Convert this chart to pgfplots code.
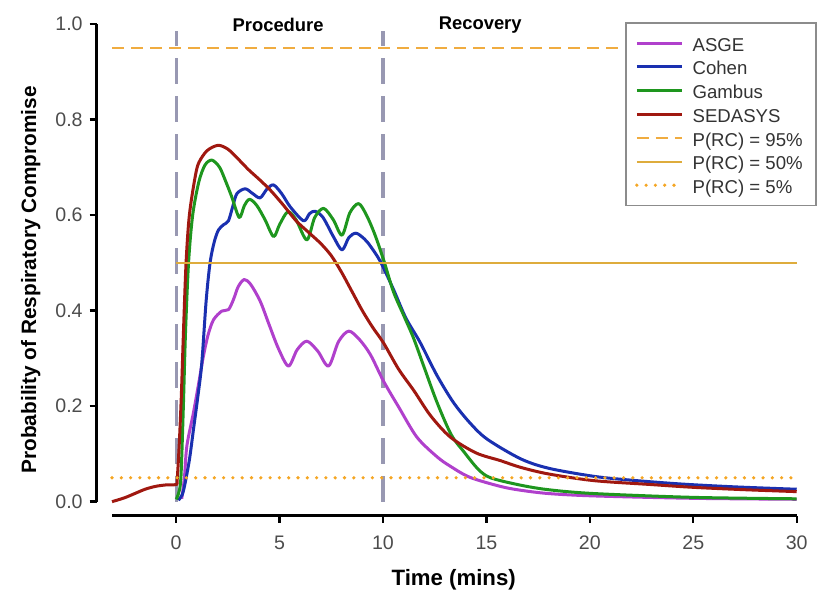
\documentclass[border=0pt]{standalone}
\usepackage{pgfplots}
\pgfplotsset{compat=1.18}
\usepackage{fontspec}
\setmainfont{Liberation Sans}

\definecolor{asge}{RGB}{176,64,204}
\definecolor{cohen}{RGB}{26,48,176}
\definecolor{gambus}{RGB}{30,150,30}
\definecolor{sedasys}{RGB}{160,24,16}
\definecolor{rc95}{RGB}{240,172,64}
\definecolor{rc50}{RGB}{222,172,60}
\definecolor{rc5}{RGB}{245,166,35}
\definecolor{phase}{RGB}{152,152,178}

\begin{document}
\begin{tikzpicture}
\path[use as bounding box] (-48.35pt,-40.5pt) rectangle (362.65pt,258pt);
\begin{axis}[
    scale only axis,
    width=350pt, height=246pt,
    xmin=-3.84, xmax=30,
    ymin=-0.03, ymax=1.0,
    clip=false,
    axis lines*=left,
    axis line style={draw=none},
    tick align=outside,
    tick pos=left,
    major tick length=3.5pt,
    tick style={black, line width=1.2pt},
    xtick={0,5,...,30},
    ytick={0,0.2,0.4,0.6,0.8,1.0},
    /pgf/number format/assume math mode=true,
    yticklabel style={/pgf/number format/fixed, /pgf/number format/fixed zerofill, /pgf/number format/precision=1, font=\fontsize{9.8}{11}\selectfont, text=black!70, xshift=0pt},
    xticklabel style={font=\fontsize{9.8}{11}\selectfont, text=black!70, yshift=-3.1pt},
    xlabel={Time (mins)},
    ylabel={Probability of Respiratory Compromise},
    xlabel style={font=\bfseries\fontsize{11.1}{13}\selectfont, at={(axis description cs:0.51,0)}, anchor=center, yshift=-32pt},
    ylabel style={font=\bfseries\fontsize{10.4}{12}\selectfont, at={(axis description cs:0,0.48)}, anchor=center, yshift=33pt},
    legend style={at={(0.755,1.004)}, anchor=north west, draw=black!45, line width=0.8pt, fill=white,
        font=\fontsize{9.3}{11}\selectfont, text=black!80, row sep=3.65pt, column sep=2.5pt,
        inner xsep=4.5pt, inner ysep=6pt,
        nodes={text height=8.2pt, text depth=0pt, inner ysep=0pt, inner xsep=2pt},
        cells={anchor=west}},
    legend image code/.code={\draw[#1] (0pt,0pt) -- (22.5pt,0pt);},
    every axis plot/.append style={line join=round},
]
% axis lines and phase markers
\draw[line width=1.5pt] (axis cs:-3.84,0) -- (axis cs:-3.84,1);
\draw[line width=1.5pt] (axis cs:-3.1,-0.03) -- (axis cs:30,-0.03);
\draw[phase, line width=1.6pt, dash pattern=on 13pt off 6pt] (axis cs:0,0) -- (axis cs:0,0.985);
\draw[phase, line width=1.6pt, dash pattern=on 13pt off 6pt] (axis cs:10,0) -- (axis cs:10,0.985);
\node[font=\bfseries\fontsize{9.2}{11}\selectfont] at (axis cs:4.93,0.998) {Procedure};
\node[font=\bfseries\fontsize{9.2}{11}\selectfont] at (axis cs:14.7,0.998) {Recovery};

% ASGE
\addplot[asge, line width=1.5pt, smooth, tension=0.5] coordinates {
(0.27,0.006) (0.4,0.05) (0.52,0.117) (0.84,0.187) (1.1,0.25) (1.32,0.305) (1.55,0.35)
(1.81,0.381) (2.21,0.399) (2.53,0.402) (2.77,0.423) (3.0,0.45) (3.29,0.465) (3.6,0.455)
(4.06,0.42) (4.5,0.37) (4.95,0.32) (5.43,0.284) (5.85,0.318) (6.32,0.336) (6.85,0.315)
(7.37,0.284) (7.85,0.335) (8.34,0.357) (8.85,0.34) (9.39,0.308) (10.03,0.252) (10.76,0.198)
(11.64,0.135) (12.61,0.094) (13.26,0.074) (14.2,0.051) (15.67,0.032) (16.64,0.024)
(18,0.017) (20.2,0.012) (25,0.007) (30,0.005)
};
% Cohen
\addplot[cohen, line width=1.5pt, smooth, tension=0.5] coordinates {
(0.11,0.003) (0.3,0.015) (0.44,0.04) (0.65,0.09) (0.84,0.152) (1.05,0.22) (1.24,0.29)
(1.45,0.42) (1.64,0.5) (1.85,0.545) (2.05,0.569) (2.3,0.58) (2.53,0.588) (2.75,0.62)
(2.94,0.645) (3.34,0.655) (3.7,0.645) (4.06,0.636) (4.4,0.655) (4.71,0.663) (5.1,0.645)
(5.52,0.617) (6.16,0.588) (6.45,0.603) (6.72,0.608) (7.1,0.595) (7.6,0.555) (8.02,0.527)
(8.35,0.553) (8.7,0.562) (9.1,0.55) (9.39,0.535) (9.87,0.503) (10.51,0.444) (11.1,0.385)
(11.8,0.333) (12.6,0.265) (13.4,0.208) (14.2,0.165) (15.03,0.131) (16.64,0.09) (18,0.07)
(20.2,0.053) (22,0.045) (24.4,0.037) (27,0.031) (30,0.026)
};
% Gambus
\addplot[gambus, line width=1.5pt, smooth, tension=0.5] coordinates {
(0,0.005) (0.1,0.015) (0.23,0.05) (0.35,0.2) (0.45,0.35) (0.6,0.5) (0.8,0.6) (1.1,0.67)
(1.4,0.705) (1.73,0.715) (2.1,0.7) (2.4,0.67) (2.69,0.638) (3.05,0.595) (3.3,0.62)
(3.55,0.633) (3.9,0.62) (4.3,0.59) (4.71,0.555) (5.0,0.58) (5.4,0.607) (5.8,0.59)
(6.32,0.548) (6.7,0.595) (7.13,0.614) (7.6,0.59) (8.02,0.558) (8.4,0.605) (8.82,0.624)
(9.2,0.6) (9.6,0.56) (10.03,0.506) (10.5,0.44) (11.0,0.39) (11.48,0.342) (12.0,0.28)
(12.61,0.208) (13.3,0.14) (13.9,0.105) (14.6,0.068) (15.2,0.05) (16.6,0.035) (18,0.025)
(20.2,0.017) (25,0.009) (30,0.006)
};
% SEDASYS
\addplot[sedasys, line width=1.5pt, smooth, tension=0.5] coordinates {
(-3.1,0.0) (-2.5,0.008) (-2,0.017) (-1.5,0.026) (-1,0.032) (-0.5,0.035) (0,0.036)
(0.05,0.045) (0.15,0.12) (0.25,0.22) (0.35,0.35) (0.48,0.5) (0.64,0.6) (0.92,0.68)
(1.1,0.71) (1.5,0.735) (2.03,0.746) (2.5,0.738) (2.94,0.72) (3.5,0.695) (4.06,0.673)
(4.6,0.65) (5.2,0.62) (5.8,0.588) (6.5,0.56) (7.0,0.54) (7.5,0.515) (8.0,0.48)
(8.5,0.44) (9.0,0.4) (9.5,0.365) (10.03,0.332) (10.76,0.277) (11.5,0.232)
(12.3,0.18) (13.26,0.135) (14.5,0.102) (15.67,0.086) (16.64,0.072) (18,0.058) (20.2,0.044)
(22.9,0.036) (25,0.03) (27.5,0.025) (30,0.021)
};
% probability thresholds
\addplot[rc95, line width=1pt, dash pattern=on 6pt off 3.5pt] coordinates {(-3.1,0.95) (30,0.95)};
\addplot[color=rc50, draw=rc50, line width=1pt] coordinates {(0,0.5) (30,0.5)};
\addplot[rc5, line width=1.8pt, line cap=round, dash pattern=on 0pt off 4.65pt] coordinates {(-3.1,0.05) (30,0.05)};
\legend{ASGE, Cohen, Gambus, SEDASYS, P(RC) = 95\%, P(RC) = 50\%, P(RC) = 5\%}
\end{axis}
\end{tikzpicture}
\end{document}
